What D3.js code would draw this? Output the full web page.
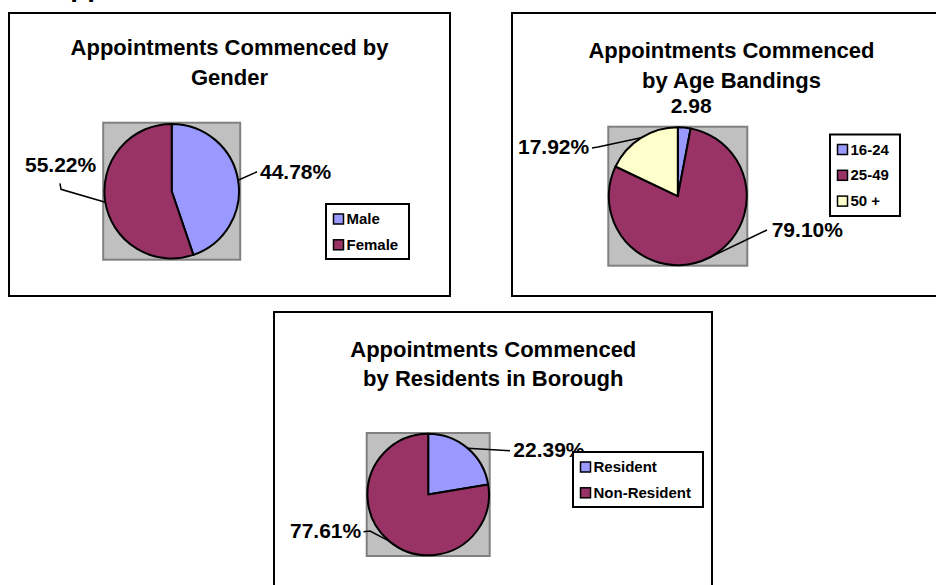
<!DOCTYPE html>
<html>
<head>
<meta charset="utf-8">
<script src="https://cdn.jsdelivr.net/npm/d3@7"></script>
<style>
  body { margin: 0; background: #fff; }
  svg text { font-family: "Liberation Sans", Arial, sans-serif; font-weight: bold; fill: #000; }
</style>
</head>
<body>
<div id="chart"></div>
<script>
// data
var genderLabels = ["Male", "Female"];
var genderValues = [44.78, 55.22];
var genderText = ["44.78%", "55.22%"];

var ageLabels = ["16-24", "25-49", "50 +"];
var ageValues = [2.98, 79.10, 17.92];
var ageText = ["2.98", "79.10%", "17.92%"];

var residentLabels = ["Resident", "Non-Resident"];
var residentValues = [22.39, 77.61];
var residentText = ["22.39%", "77.61%"];

var blue = "#9999FF", plum = "#993366", cream = "#FFFFCC";

var width = 936, height = 585;
var svg = d3.select("#chart").append("svg")
    .attr("width", width)
    .attr("height", height);

// page heading, mostly cut off by the top edge
svg.append("text")
    .attr("x", 50)
    .attr("y", -4)
    .style("font-size", "28px")
    .text("Appointments");

var panels = [
    {
        box: [9, 13, 441, 283],
        title: ["Appointments Commenced by", "Gender"], titleX: 229.5, titleY: 55,
        cx: 171.7, cy: 191.2, r: 67.3, sq: 68.5,
        labels: genderLabels, values: genderValues, text: genderText, colors: [blue, plum],
        // label [x, baseline], leader bend points
        lab: [
            { x: 260, y: 178.5, line: [[257, 171.8]] },
            { x: 25, y: 172.3, line: [[61, 189.3], [60, 183.3]] }
        ],
        legend: { x: 326, y: 204, w: 83, h: 55 }
    },
    {
        box: [512, 13, 440, 283],
        title: ["Appointments Commenced", "by Age Bandings"], titleX: 731.5, titleY: 58.3,
        cx: 677.8, cy: 196.2, r: 69, sq: 69.5,
        labels: ageLabels, values: ageValues, text: ageText, colors: [blue, plum, cream],
        lab: [
            { x: 670.7, y: 113.3, line: null },
            { x: 771.7, y: 237.3, line: [[767, 230]] },
            { x: 518, y: 154.3, line: [[598, 147], [592, 148]] }
        ],
        legend: { x: 830, y: 134.5, w: 70, h: 81.5 }
    },
    {
        box: [274, 312, 438, 290],
        title: ["Appointments Commenced", "by Residents in Borough"], titleX: 493.3, titleY: 356.7,
        cx: 428.2, cy: 494.5, r: 60.8, sq: 61.5,
        labels: residentLabels, values: residentValues, text: residentText, colors: [blue, plum],
        lab: [
            { x: 513.3, y: 456.7, line: [[510, 450.7]] },
            { x: 290, y: 537.7, line: [[370, 531], [363.5, 531.7]] }
        ],
        legend: { x: 573, y: 452, w: 130, h: 55 }
    }
];

var pie = d3.pie().sort(null).value(function(d) { return d; });

panels.forEach(function(p) {
    var g = svg.append("g");

    // outer frame
    g.append("rect")
        .attr("x", p.box[0]).attr("y", p.box[1])
        .attr("width", p.box[2]).attr("height", p.box[3])
        .attr("fill", "#fff")
        .attr("stroke", "#000")
        .attr("stroke-width", 2);

    // title
    g.selectAll(".title")
        .data(p.title)
        .enter().append("text")
        .attr("class", "title")
        .attr("x", p.titleX)
        .attr("y", function(d, i) { return p.titleY + i * 29.6; })
        .attr("text-anchor", "middle")
        .style("font-size", "22px")
        .text(function(d) { return d; });

    // grey plot area
    g.append("rect")
        .attr("x", p.cx - p.sq).attr("y", p.cy - p.sq)
        .attr("width", p.sq * 2).attr("height", p.sq * 2)
        .attr("fill", "#C0C0C0")
        .attr("stroke", "#808080")
        .attr("stroke-width", 2);

    var color = d3.scaleOrdinal().domain(p.labels).range(p.colors);
    var arc = d3.arc().innerRadius(0).outerRadius(p.r);
    var edge = d3.arc().innerRadius(p.r).outerRadius(p.r);
    var slices = pie(p.values);

    var pg = g.append("g").attr("transform", "translate(" + p.cx + "," + p.cy + ")");
    pg.selectAll("path")
        .data(slices)
        .enter().append("path")
        .attr("d", arc)
        .attr("fill", function(d, i) { return color(p.labels[i]); })
        .attr("stroke", "#000")
        .attr("stroke-width", 2)
        .attr("stroke-linejoin", "round");

    // leader lines from slice edge to label
    var line = d3.line();
    slices.forEach(function(s, i) {
        var l = p.lab[i];
        if (l.line) {
            var c = edge.centroid(s);
            var pts = [[p.cx + c[0], p.cy + c[1]]].concat(l.line);
            g.append("path")
                .attr("d", line(pts))
                .attr("fill", "none")
                .attr("stroke", "#000")
                .attr("stroke-width", 1.5);
        }
        g.append("text")
            .attr("x", l.x)
            .attr("y", l.y)
            .style("font-size", "21px")
            .text(p.text[i]);
    });

    // legend
    var lg = p.legend;
    g.append("rect")
        .attr("x", lg.x).attr("y", lg.y)
        .attr("width", lg.w).attr("height", lg.h)
        .attr("fill", "#fff")
        .attr("stroke", "#000")
        .attr("stroke-width", 2);

    var rowY = d3.scalePoint()
        .domain(p.labels)
        .range([lg.y + 19.5, lg.y + 19.5 + 25.8 * (p.labels.length - 1)]);

    var items = g.selectAll(".leg")
        .data(p.labels)
        .enter().append("g")
        .attr("class", "leg");
    items.append("rect")
        .attr("x", lg.x + 7.5)
        .attr("y", function(d) { return rowY(d) - 9.5; })
        .attr("width", 10).attr("height", 10)
        .attr("fill", function(d) { return color(d); })
        .attr("stroke", "#000")
        .attr("stroke-width", 1.5);
    items.append("text")
        .attr("x", lg.x + 20.5)
        .attr("y", function(d) { return rowY(d) + 0.5; })
        .style("font-size", "15px")
        .text(function(d) { return d; });
});
</script>
</body>
</html>
